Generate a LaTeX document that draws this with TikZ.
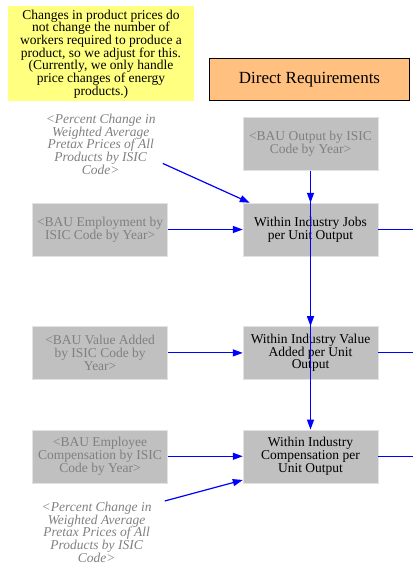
\documentclass[tikz,border=0pt]{standalone}
\usepackage{fontspec}
\setmainfont{Liberation Serif}
\usetikzlibrary{arrows.meta,positioning}
\definecolor{boxgray}{HTML}{C0C0C0}
\definecolor{boxedge}{HTML}{E2E2E2}
\definecolor{textgray}{HTML}{808080}
\definecolor{notefill}{HTML}{FFFF80}
\definecolor{titlefill}{HTML}{FFC080}

\begin{document}
\begin{tikzpicture}[
    font=\fontsize{13.5}{12.7}\selectfont,
    ghost/.style={draw=boxedge, fill=boxgray, text=textgray, align=center, minimum width=135pt, minimum height=53pt, inner sep=1pt},
    calc/.style={draw=boxedge, fill=boxgray, align=center, minimum width=135pt, minimum height=53pt, inner sep=1pt},
    pct/.style={text=textgray, font=\fontsize{13.5}{12.7}\selectfont\itshape, align=center, inner sep=1pt},
    note/.style={fill=notefill, align=center, minimum width=186pt, minimum height=95pt, inner sep=1pt},
    title/.style={draw, line width=1.5pt, fill=titlefill, minimum width=200pt, minimum height=42pt, font=\fontsize{17}{20}\selectfont},
    arrow/.style={-{Triangle[length=10pt,width=7pt]}, draw=blue, line width=1.2pt},
    flow/.style={draw=blue, line width=1.2pt}
]
\useasboundingbox (0,0) rectangle (413pt,565pt);
\node[note] (note) at (101pt,511pt) {Changes in product prices do\\not change the number of\\workers required to produce a\\product, so we adjust for this.\\(Currently, we only handle\\price changes of energy\\products.)};
\node[title] (dirreq) at (309.5pt,485.5pt) {Direct Requirements};
\node[calc] (jobs) at (310.5pt,335.5pt) {Within Industry Jobs\\per Unit Output};
\node[ghost, above=32pt of jobs] (bauout) {<BAU Output by ISIC\\Code by Year>};
\node[ghost, left=75pt of jobs] (bauemp) {<BAU Employment by\\ISIC Code by Year>};
\node[calc, below=70pt of jobs] (va) {Within Industry Value\\Added per Unit\\Output};
\node[ghost, left=75pt of va] (bauva) {<BAU Value Added\\by ISIC Code by\\Year>};
\node[calc, below=50pt of va] (comp) {Within Industry\\Compensation per\\Unit Output};
\node[ghost, left=75pt of comp] (baucomp) {<BAU Employee\\Compensation by ISIC\\Code by Year>};
\node[pct, left=86pt of bauout] (pcttop) {<Percent Change in\\Weighted Average\\Pretax Prices of All\\Products by ISIC\\Code>};
\node[pct, below=18pt of baucomp, xshift=-3.5pt] (pctbot) {<Percent Change in\\Weighted Average\\Pretax Prices of All\\Products by ISIC\\Code>};
\coordinate (jobsout) at ([xshift=35pt]jobs.east);
\coordinate (vaout) at ([xshift=35pt]va.east);
\coordinate (compout) at ([xshift=35pt]comp.east);
\draw[arrow] ([xshift=6pt,yshift=12pt]pcttop.south east) -- ([xshift=7pt]jobs.north west);
\draw[arrow] (bauemp) -- (jobs);
\draw[arrow] (bauva) -- (va);
\draw[arrow] (baucomp) -- (comp);
\draw[arrow] ([xshift=12pt]pctbot.north east) -- ([yshift=3pt]comp.south west);
\draw[arrow] (bauout) -- (jobs);
\draw[arrow] (bauout) -- (va);
\draw[arrow] (bauout) -- (comp);
\draw[flow] (jobs) -- (jobsout);
\draw[flow, line width=0.8pt] (va) -- (vaout);
\draw[flow] (comp) -- (compout);
\end{tikzpicture}
\end{document}
